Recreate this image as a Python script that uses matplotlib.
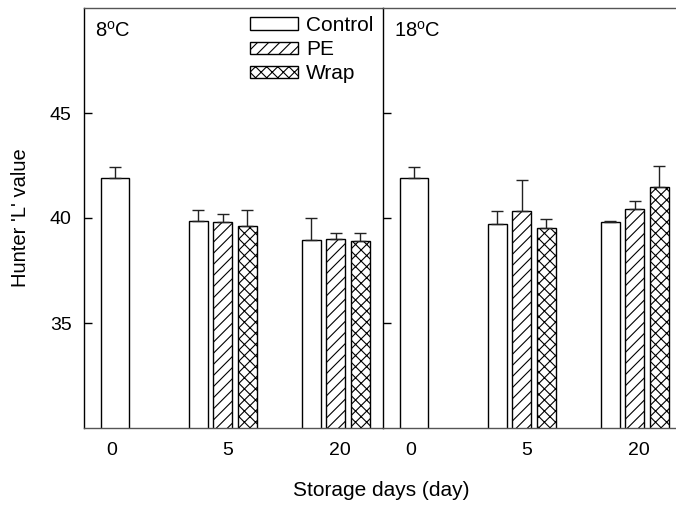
import numpy as np
import matplotlib
matplotlib.use("Agg")
import matplotlib.pyplot as plt

plt.rcParams['font.family'] = ['Liberation Sans', 'DejaVu Sans']
plt.rcParams['mathtext.fontset'] = 'custom'
plt.rcParams['mathtext.rm'] = 'Liberation Sans'
plt.rcParams['hatch.linewidth'] = 0.8

days = ['0', '5', '20']
temps = ['8$^{\\mathrm{o}}$C', '18$^{\\mathrm{o}}$C']

# Hunter L values, [8C, 18C]; day 0 only has the control
control = [[41.9, 39.87, 38.97], [41.9, 39.71, 39.81]]
control_err = [[0.55, 0.53, 1.03], [0.55, 0.64, 0.06]]
pe = [[39.79, 39.0], [40.32, 40.41]]
pe_err = [[0.41, 0.3], [1.5, 0.41]]
wrap = [[39.62, 38.89], [39.51, 41.46]]
wrap_err = [[0.76, 0.41], [0.46, 1.02]]

group_x = np.array([31, 138.7, 251.8])
bw = 19
step = 24.5
bw0 = 28

W, H = 676, 507
fig = plt.figure(figsize=(W / 100, H / 100), dpi=100)
left, bottom, top = 84, 428, 8
pw = 299
axes = []
for i in range(2):
    ax = fig.add_axes([(left + i * pw) / W, (H - bottom) / H, pw / W, (bottom - top) / H])
    axes.append(ax)

err_kw = dict(ecolor='#222222', elinewidth=1, capsize=4.3, capthick=1)
for i, ax in enumerate(axes):
    # day 0 control (wider bar)
    ax.bar(group_x[0], control[i][0], width=bw0, color='white', edgecolor='black', lw=1,
           yerr=[[0], [control_err[i][0]]], error_kw=err_kw, label='Control')
    xs = group_x[1:]
    ax.bar(xs - step, control[i][1:], width=bw, color='white', edgecolor='black', lw=1,
           yerr=[[0, 0], control_err[i][1:]], error_kw=err_kw)
    ax.bar(xs, pe[i], width=bw, color='white', edgecolor='black', lw=1, hatch='///',
           yerr=[[0, 0], pe_err[i]], error_kw=err_kw, label='PE')
    ax.bar(xs + step, wrap[i], width=bw, color='white', edgecolor='black', lw=1, hatch='xxx',
           yerr=[[0, 0], wrap_err[i]], error_kw=err_kw, label='Wrap')

    ax.set_xlim(0, pw)
    ax.set_ylim(30, 50)
    ax.set_yticks([35, 40, 45])
    ax.set_xticks(group_x + np.array([-3, 5, 4]))
    ax.set_xticklabels(days)
    ax.tick_params(axis='x', length=0, pad=10, labelsize=14)
    ax.tick_params(axis='y', direction='in', length=6, width=1, pad=9, labelsize=14)
    ax.spines['right'].set_visible(False)
    for s in ['top', 'bottom']:
        ax.spines[s].set_color('#555555')
        ax.spines[s].set_linewidth(1)
    ax.spines['left'].set_linewidth(1)
    ax.text(11 / pw, 1 - 23 / 420, temps[i], transform=ax.transAxes, fontsize=14.5,
            va='center', ha='left')
    if i == 1:
        ax.tick_params(axis='y', labelleft=False)

axes[0].set_ylabel("Hunter 'L' value", fontsize=14.5, labelpad=14)

handles, labels = axes[0].get_legend_handles_labels()
leg = axes[0].legend(handles, labels, loc='upper left', bbox_to_anchor=(250 / W, 1 - 16 / H),
                     bbox_transform=fig.transFigure, frameon=False, fontsize=15,
                     handlelength=2.3, handleheight=0.55, labelspacing=0.25,
                     handletextpad=0.4, borderpad=0, borderaxespad=0)

fig.text(381 / W, 1 - 491 / H, 'Storage days (day)', ha='center', va='center', fontsize=15)

fig.savefig('out.png', dpi=100)
